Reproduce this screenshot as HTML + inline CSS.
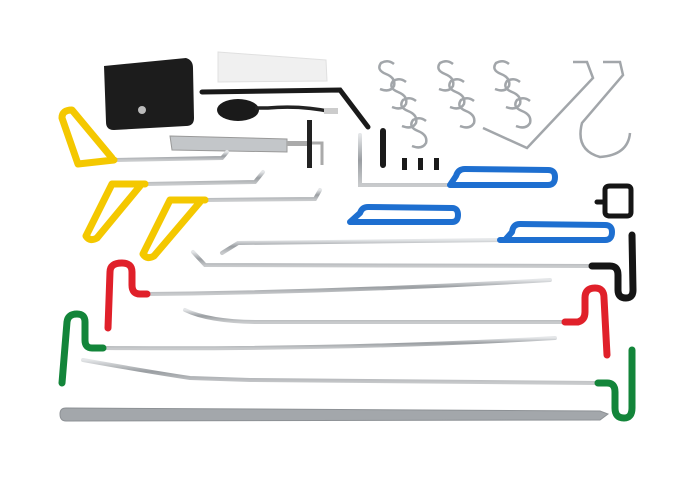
<!DOCTYPE html>
<html><head><meta charset="utf-8"><style>html,body{margin:0;padding:0;background:#fff}svg{display:block}</style></head>
<body>
<svg width="700" height="490" viewBox="0 0 700 490" xmlns="http://www.w3.org/2000/svg">
<defs>
<linearGradient id="m" x1="0" y1="0" x2="0" y2="1"><stop offset="0" stop-color="#e4e6e8"/><stop offset="0.5" stop-color="#9a9ea2"/><stop offset="1" stop-color="#c8cacc"/></linearGradient>
<path id="s" d="M16 4 Q10 -1 3 3 Q-2 10 8 14 Q18 18 16 26 Q12 33 2 29" fill="none" stroke="#a2a6aa" stroke-width="2.5"/>
</defs>
<rect width="700" height="490" fill="#fff"/>
<!-- bag -->
<path d="M104 66 L186 58 Q193 60 193 68 L194 118 Q194 126 186 126 L114 130 Q106 130 106 122 Z" fill="#1c1c1c"/>
<circle cx="142" cy="110" r="4" fill="#bbb"/>
<!-- wedge -->
<path d="M218 52 L326 60 L327 81 L218 82 Z" fill="#f0f0f0" stroke="#e0e0e0"/>
<!-- pump -->
<path d="M202 92 L340 90 L368 127" stroke="#1a1a1a" stroke-width="5" fill="none" stroke-linecap="round"/>
<ellipse cx="238" cy="110" rx="21" ry="11" fill="#1a1a1a"/>
<path d="M255 108 L268 108 Q300 105 333 112" stroke="#222" stroke-width="3.5" fill="none"/>
<rect x="324" y="108" width="14" height="6" fill="#ccc"/>
<!-- bracket -->
<path d="M170 136 L287 139 L287 152 L172 150 Z" fill="#c3c6c9" stroke="#999"/>
<rect x="287" y="141" width="22" height="5" fill="#aaa"/>
<rect x="307" y="120" width="5" height="48" fill="#222"/>
<path d="M312 143 L322 143 L322 165" stroke="#aaa" stroke-width="3" fill="none"/>
<!-- S-hooks -->
<use href="#s" x="378" y="60"/><use href="#s" x="390" y="78"/><use href="#s" x="400" y="97"/><use href="#s" x="410" y="117"/>
<use href="#s" x="437" y="60"/><use href="#s" x="448" y="78"/><use href="#s" x="458" y="97"/>
<use href="#s" x="493" y="60"/><use href="#s" x="504" y="78"/><use href="#s" x="514" y="97"/>
<g stroke="#a2a6aa" stroke-width="2.5" fill="none">
<path d="M483 128 L527 148 L593 78 L587 62 L573 62"/>
<path d="M603 62 L620 62 L623 75 L582 123 Q575 150 600 157 Q628 155 630 133"/>
</g>
<!-- pins -->
<g fill="#1a1a1a"><rect x="380" y="128" width="6" height="40" rx="3"/><rect x="402" y="158" width="5" height="12"/><rect x="418" y="158" width="5" height="12"/><rect x="434" y="158" width="5" height="12"/></g>
<!-- rods -->
<g stroke="url(#m)" stroke-width="4" fill="none" stroke-linecap="round">
<path d="M115 160 L222 158 L227 152"/>
<path d="M145 184 L255 182 L263 172"/>
<path d="M205 200 L315 199 L320 190"/>
<path d="M360 135 L360 185 L450 185"/>
<path d="M203 222 L350 222"/>
<path d="M222 253 L238 243 L505 240"/>
<path d="M473 202 L597 202"/>
<path d="M193 252 L205 265 L592 266"/>
<path d="M147 294 Q350 292 550 280"/>
<path d="M185 310 Q210 322 260 322 L565 322"/>
<path d="M103 348 Q350 350 555 338"/>
<path d="M83 360 Q150 372 190 378 L250 380 L598 383"/>
</g>
<!-- flat bar -->
<path d="M66 408 L600 411 L608 414 L600 420 L66 421 Q60 421 60 414 Q60 408 66 408 Z" fill="#a3a7ab" stroke="#8d9195"/>
<!-- yellow handles -->
<g stroke="#f4c800" stroke-width="7" fill="none" stroke-linejoin="round" stroke-linecap="round">
<path d="M114 160 L78 164 L62 118 Q62 110 72 110 L112 158"/>
<path d="M145 184 L112 184 L86 236 Q90 242 97 238 L140 186"/>
<path d="M205 200 L170 200 L143 254 Q147 260 154 256 L200 202"/>
</g>
<!-- blue handles -->
<g stroke="#1e6fd0" stroke-width="6" fill="none" stroke-linejoin="round" stroke-linecap="round">
<path d="M450 185 L548 185 Q555 185 555 177 Q555 170 548 170 L465 169 Q458 169 456 176 L450 185"/>
<path d="M350 222 L452 222 Q458 222 458 215 Q458 208 452 208 L368 207 Q362 207 360 213 L350 222"/>
<path d="M500 240 L605 240 Q612 240 612 232 Q612 225 605 225 L520 224 Q513 224 512 232 L505 240"/>
</g>
<!-- black handles -->
<g stroke="#151515" stroke-width="5" fill="none" stroke-linejoin="round" stroke-linecap="round">
<path d="M597 202 L605 202 L605 190 Q605 186 610 186 L627 186 Q631 186 631 190 L631 212 Q631 216 627 216 L610 216 Q605 216 605 212 L605 202"/>
<path d="M592 266 L610 266 Q618 266 618 275 L618 290 Q618 298 626 298 Q633 298 633 290 L632 235" stroke-width="7"/>
</g>
<!-- red handles -->
<g stroke="#e0202a" stroke-width="7" fill="none" stroke-linecap="round" stroke-linejoin="round">
<path d="M147 294 L140 294 Q132 294 132 285 L132 272 Q132 263 122 263 Q110 263 110 272 L108 328"/>
<path d="M565 322 L578 322 Q585 320 585 312 L585 298 Q585 288 595 288 Q604 288 604 298 L607 355"/>
</g>
<!-- green handles -->
<g stroke="#13853a" stroke-width="7" fill="none" stroke-linecap="round" stroke-linejoin="round">
<path d="M103 348 L92 348 Q85 348 85 340 L85 322 Q85 314 77 314 Q68 314 67 322 L62 383"/>
<path d="M598 383 L607 383 Q615 383 615 392 L615 408 Q615 418 624 418 Q632 418 632 408 L632 350"/>
</g>
</svg>
</body></html>
